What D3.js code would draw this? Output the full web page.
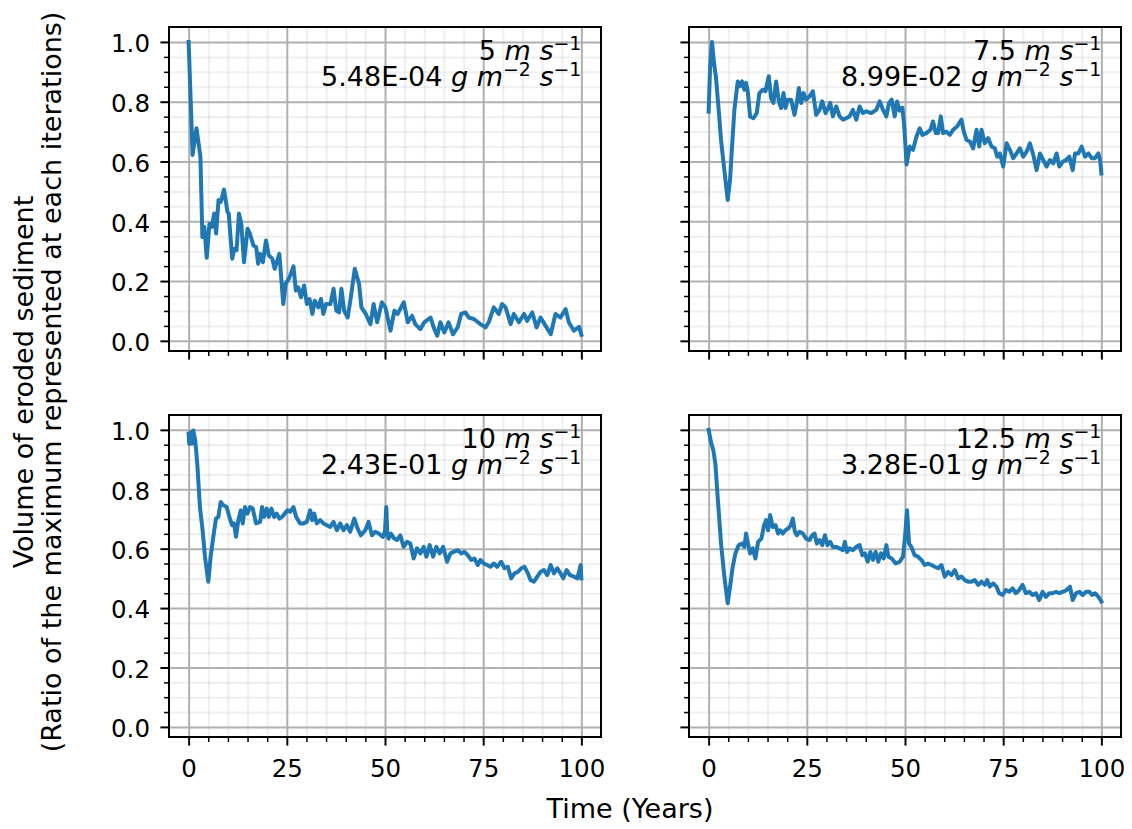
<!DOCTYPE html>
<html>
<head>
<meta charset="utf-8">
<script src="https://cdn.jsdelivr.net/npm/d3@7"></script>
<style>
  body { margin: 0; background: #fff; }
  text { font-family: "DejaVu Sans", sans-serif; fill: #000; }
</style>
</head>
<body>
<div id="chart"></div>
<script>
// wind speeds and erosion fluxes shown in each panel
var speeds = ["5", "7.5", "10", "12.5"];
var fluxes = ["5.48E-04", "8.99E-02", "2.43E-01", "3.28E-01"];

var xMajor = [0, 25, 50, 75, 100];
var yMajor = [0.0, 0.2, 0.4, 0.6, 0.8, 1.0];
var xTickLabels = ["0", "25", "50", "75", "100"];
var yTickLabels = ["0.0", "0.2", "0.4", "0.6", "0.8", "1.0"];

// [time (years), ratio of eroded volume]
var series5 = [[0,1.0],[1.0,0.622],[2.0,0.711],[3.0,0.616],[3.5,0.347],[4.0,0.381],[4.6,0.278],[5.3,0.392],[5.9,0.381],[6.5,0.426],[7.0,0.359],[7.6,0.471],[8.2,0.465],[9.0,0.506],[9.9,0.431],[10.2,0.426],[11.1,0.275],[11.6,0.308],[12.2,0.303],[12.8,0.426],[13.4,0.392],[14.1,0.263],[15.0,0.375],[15.6,0.359],[16.5,0.319],[17.2,0.314],[17.7,0.258],[18.2,0.291],[18.9,0.263],[19.7,0.336],[20.4,0.286],[21.3,0.275],[21.9,0.241],[23.1,0.291],[24.1,0.123],[24.7,0.19],[25.7,0.213],[26.7,0.249],[27.3,0.168],[27.9,0.179],[28.6,0.146],[29.4,0.185],[30.1,0.123],[30.8,0.14],[31.5,0.09],[32.1,0.134],[33.0,0.112],[33.7,0.14],[34.3,0.09],[35.0,0.123],[36.1,0.123],[36.9,0.174],[37.6,0.101],[38.3,0.095],[38.9,0.174],[39.6,0.101],[40.5,0.078],[41.3,0.146],[42.3,0.241],[43.4,0.19],[44.0,0.112],[45.1,0.09],[46.3,0.056],[47.1,0.123],[48.0,0.062],[49.2,0.129],[50.1,0.112],[51.4,0.034],[52.4,0.101],[53.2,0.09],[54.8,0.129],[55.8,0.062],[56.9,0.084],[57.7,0.056],[59.0,0.039],[60.0,0.062],[61.6,0.078],[62.4,0.045],[63.3,0.017],[64.1,0.062],[65.1,0.028],[66.2,0.062],[67.3,0.022],[68.5,0.045],[69.4,0.09],[70.5,0.095],[71.3,0.078],[72.6,0.073],[74.3,0.056],[75.6,0.045],[76.4,0.062],[77.7,0.112],[79.0,0.09],[79.8,0.123],[80.7,0.112],[82.0,0.056],[82.8,0.09],[84.1,0.062],[85.4,0.09],[86.2,0.067],[87.5,0.095],[88.6,0.045],[89.6,0.078],[90.9,0.05],[92.2,0.022],[93.4,0.09],[94.7,0.078],[96.0,0.106],[96.8,0.062],[98.1,0.034],[99.4,0.047],[100,0.02]];

var series7_5 = [[0,0.767],[0.35,0.908],[0.86,1.0],[1.37,0.93],[1.88,0.88],[2.56,0.773],[3.16,0.672],[4.0,0.571],[4.86,0.471],[5.45,0.538],[5.96,0.65],[6.56,0.773],[7.41,0.868],[8.0,0.852],[8.51,0.868],[9.11,0.84],[9.53,0.863],[9.96,0.835],[10.55,0.751],[11.4,0.745],[12.25,0.762],[12.93,0.829],[13.78,0.84],[14.46,0.835],[15.31,0.885],[15.91,0.812],[16.5,0.796],[17.19,0.868],[17.87,0.801],[18.46,0.779],[19.06,0.829],[19.57,0.779],[20.16,0.807],[21.01,0.807],[21.86,0.756],[22.46,0.796],[22.97,0.846],[23.56,0.796],[24.16,0.829],[24.84,0.807],[25.69,0.818],[26.54,0.835],[27.39,0.756],[28.24,0.773],[28.92,0.801],[29.77,0.762],[30.45,0.779],[30.96,0.796],[31.64,0.751],[32.49,0.784],[33.34,0.751],[34.19,0.74],[35.04,0.745],[35.89,0.751],[36.74,0.773],[37.59,0.74],[38.44,0.784],[39.29,0.762],[40.15,0.768],[41.42,0.762],[42.7,0.773],[43.55,0.801],[44.4,0.773],[45.25,0.751],[45.93,0.796],[46.61,0.807],[47.37,0.751],[47.97,0.801],[48.65,0.77],[49.33,0.78],[49.8,0.72],[50.4,0.59],[51.2,0.65],[52.05,0.639],[52.9,0.683],[53.75,0.711],[54.43,0.689],[55.45,0.695],[56.47,0.706],[57.15,0.734],[57.83,0.695],[58.43,0.695],[59.11,0.751],[59.7,0.695],[60.55,0.7],[61.4,0.689],[62.25,0.706],[63.27,0.717],[64.38,0.74],[64.97,0.7],[65.66,0.672],[66.51,0.667],[67.36,0.644],[68.21,0.706],[68.89,0.65],[69.48,0.706],[70.33,0.661],[71.18,0.678],[72.03,0.65],[72.88,0.644],[73.48,0.616],[74.16,0.627],[75.01,0.583],[75.86,0.661],[76.71,0.639],[77.56,0.611],[78.41,0.627],[79.26,0.644],[80.11,0.616],[80.96,0.633],[81.81,0.661],[82.66,0.622],[83.51,0.571],[84.36,0.627],[85.21,0.605],[86.06,0.583],[86.91,0.605],[87.76,0.594],[88.61,0.627],[89.29,0.583],[90.15,0.599],[91.0,0.605],[91.85,0.616],[92.7,0.571],[93.29,0.627],[94.14,0.627],[94.99,0.65],[95.84,0.616],[96.69,0.627],[97.54,0.611],[98.39,0.611],[99.24,0.627],[99.67,0.605],[100,0.56]];

var series10 = [[0,0.987],[0.16,0.953],[0.5,0.992],[0.84,0.953],[1.18,0.998],[1.69,0.964],[2.2,0.886],[2.88,0.74],[3.56,0.662],[4.16,0.573],[5.01,0.489],[5.6,0.573],[6.28,0.64],[6.96,0.701],[7.56,0.707],[8.16,0.757],[8.83,0.746],[9.69,0.74],[10.37,0.707],[11.05,0.679],[11.56,0.685],[12.07,0.64],[12.66,0.696],[13.26,0.729],[13.77,0.685],[14.36,0.74],[14.96,0.718],[15.64,0.74],[16.32,0.735],[17.17,0.685],[18.19,0.69],[18.7,0.74],[19.21,0.707],[19.89,0.735],[20.4,0.707],[21.08,0.735],[21.76,0.707],[22.44,0.718],[23.12,0.701],[23.8,0.707],[24.48,0.718],[25.16,0.729],[25.84,0.724],[26.69,0.74],[27.37,0.707],[28.39,0.685],[29.24,0.685],[30.09,0.69],[30.94,0.729],[31.45,0.696],[31.96,0.718],[32.65,0.685],[33.5,0.696],[34.34,0.685],[35.2,0.679],[36.05,0.673],[36.9,0.69],[37.75,0.662],[38.6,0.685],[39.45,0.662],[40.3,0.679],[41.15,0.657],[42.17,0.701],[43.02,0.668],[43.87,0.645],[44.97,0.662],[45.82,0.69],[46.68,0.645],[47.5,0.657],[48.37,0.651],[49.48,0.64],[50.0,0.66],[50.33,0.74],[50.6,0.645],[50.93,0.634],[51.52,0.651],[52.37,0.634],[53.05,0.629],[53.9,0.645],[54.75,0.606],[55.6,0.623],[56.45,0.617],[57.3,0.567],[58.15,0.601],[59.0,0.584],[59.85,0.606],[60.54,0.573],[61.39,0.612],[62.24,0.573],[63.09,0.606],[63.94,0.584],[64.79,0.606],[65.81,0.556],[66.66,0.584],[67.51,0.589],[68.53,0.595],[69.38,0.584],[70.23,0.589],[71.08,0.578],[71.93,0.562],[72.78,0.567],[73.63,0.545],[74.31,0.562],[75.16,0.55],[76.01,0.545],[76.86,0.539],[77.71,0.55],[78.56,0.539],[79.58,0.556],[80.43,0.534],[81.28,0.539],[82.13,0.5],[82.98,0.517],[83.83,0.522],[84.69,0.534],[85.54,0.539],[86.39,0.517],[87.07,0.494],[87.92,0.489],[88.77,0.506],[89.62,0.522],[90.47,0.528],[91.32,0.511],[92.17,0.545],[93.02,0.517],[93.87,0.534],[94.72,0.517],[95.4,0.5],[96.25,0.528],[97.1,0.511],[98.12,0.506],[98.97,0.5],[99.82,0.545],[100,0.5]];

var series12_5 = [[0,1.0],[0.6,0.959],[1.2,0.931],[1.71,0.886],[2.3,0.774],[3.16,0.617],[4.0,0.506],[4.86,0.416],[5.45,0.472],[6.13,0.539],[6.81,0.584],[7.66,0.612],[8.51,0.617],[9.11,0.606],[9.53,0.651],[10.04,0.617],[10.55,0.584],[11.23,0.601],[11.91,0.567],[12.59,0.623],[13.44,0.634],[14.12,0.679],[14.63,0.696],[15.15,0.662],[15.66,0.713],[16.33,0.673],[17.02,0.679],[17.7,0.651],[18.21,0.662],[18.89,0.651],[19.57,0.662],[20.25,0.668],[20.93,0.679],[21.44,0.701],[21.95,0.657],[22.46,0.645],[23.14,0.657],[23.99,0.651],[24.84,0.634],[25.69,0.629],[26.37,0.645],[26.96,0.651],[27.56,0.617],[28.24,0.629],[28.92,0.612],[29.6,0.645],[30.28,0.612],[30.96,0.623],[31.64,0.606],[32.49,0.606],[33.34,0.601],[34.19,0.595],[34.7,0.623],[35.21,0.589],[35.89,0.601],[36.74,0.595],[37.59,0.606],[38.44,0.612],[39.13,0.578],[39.8,0.584],[40.48,0.556],[41.17,0.589],[41.84,0.562],[42.53,0.589],[43.21,0.556],[43.89,0.584],[44.57,0.567],[45.25,0.612],[45.76,0.573],[46.61,0.567],[47.63,0.55],[48.65,0.556],[49.5,0.573],[50.01,0.64],[50.52,0.729],[51.03,0.617],[51.62,0.606],[52.47,0.578],[53.32,0.573],[54.18,0.562],[55.03,0.545],[55.88,0.55],[56.73,0.545],[57.58,0.539],[58.43,0.534],[59.28,0.545],[60.13,0.506],[60.98,0.522],[61.83,0.511],[62.68,0.528],[63.53,0.5],[64.38,0.506],[65.23,0.494],[66.08,0.489],[66.93,0.489],[67.78,0.494],[68.63,0.478],[69.48,0.489],[70.33,0.478],[70.93,0.494],[71.61,0.472],[72.46,0.483],[73.31,0.472],[73.99,0.45],[74.84,0.444],[75.69,0.461],[76.54,0.455],[77.39,0.466],[78.24,0.45],[79.09,0.461],[79.94,0.478],[80.79,0.45],[81.64,0.455],[82.49,0.444],[83.34,0.45],[84.19,0.427],[85.04,0.455],[85.89,0.438],[86.74,0.45],[87.59,0.45],[88.44,0.455],[89.29,0.45],[90.31,0.455],[91.16,0.461],[92.01,0.472],[92.7,0.427],[93.55,0.45],[94.4,0.455],[95.25,0.444],[96.1,0.455],[96.95,0.455],[97.63,0.444],[98.39,0.45],[99.24,0.438],[100,0.422]];

var allSeries = [series5, series7_5, series10, series12_5];

var W = 1132, H = 829;
var fs = 24.5;                  // tick labels, 10pt at this figure's dpi
var lfs = 27;                   // labels and annotations
var cols = [[169, 601], [689, 1121]];
var rows = [[27, 351], [415, 737]];

var xMinor = d3.range(5, 100, 5).filter(function (v) { return v % 25 !== 0; });
var yMinor = d3.range(1, 21).map(function (i) { return +(i * 0.05).toFixed(2); })
    .filter(function (v) { return Math.round(v * 100) % 20 !== 0 && v < 1.04; });

var svg = d3.select("#chart").append("svg")
    .attr("width", W)
    .attr("height", H)
    .style("background", "#fff");

function styleAxis(sel, color, width, opacity) {
    sel.select(".domain").remove();
    sel.selectAll("line").attr("stroke", color).attr("stroke-width", width).attr("stroke-opacity", opacity);
}

// "value m s-1" style text: parts of [string, italic, superscript]
function richText(g, x, y, parts) {
    var t = g.append("text").attr("x", x).attr("y", y)
        .attr("text-anchor", "end").style("font-size", lfs + "px");
    var raised = false;
    parts.forEach(function (p) {
        var s = t.append("tspan").text(p[0]);
        if (p[1]) s.style("font-style", "italic");
        if (p[2]) { s.attr("dy", -10).style("font-size", (lfs * 0.7) + "px"); raised = true; }
        else if (raised) { s.attr("dy", 10); raised = false; }
    });
}

function drawPanel(i) {
    var c = i % 2, r = Math.floor(i / 2);
    var x0 = cols[c][0], x1 = cols[c][1], y0 = rows[r][0], y1 = rows[r][1];
    var x = d3.scaleLinear().domain([-5, 105]).range([x0, x1]);
    var y = d3.scaleLinear().domain([-0.034, 1.05]).range([y1, y0]);
    var g = svg.append("g");

    // minor grid
    g.append("g").attr("transform", "translate(0," + y1 + ")")
        .call(d3.axisBottom(x).tickValues(xMinor).tickSize(-(y1 - y0)).tickFormat(""))
        .call(styleAxis, "#b0b0b0", 2, 0.2);
    g.append("g").attr("transform", "translate(" + x0 + ",0)")
        .call(d3.axisLeft(y).tickValues(yMinor).tickSize(-(x1 - x0)).tickFormat(""))
        .call(styleAxis, "#b0b0b0", 2, 0.2);
    // major grid
    g.append("g").attr("transform", "translate(0," + y1 + ")")
        .call(d3.axisBottom(x).tickValues(xMajor).tickSize(-(y1 - y0)).tickFormat(""))
        .call(styleAxis, "#b0b0b0", 2, 1);
    g.append("g").attr("transform", "translate(" + x0 + ",0)")
        .call(d3.axisLeft(y).tickValues(yMajor).tickSize(-(x1 - x0)).tickFormat(""))
        .call(styleAxis, "#b0b0b0", 2, 1);

    // the series
    g.append("path")
        .datum(allSeries[i])
        .attr("fill", "none")
        .attr("stroke", "#1f77b4")
        .attr("stroke-width", 4)
        .attr("stroke-linejoin", "round")
        .attr("stroke-linecap", "square")
        .attr("d", d3.line().x(function (d) { return x(d[0]); }).y(function (d) { return y(d[1]); }));

    // spines
    g.append("rect")
        .attr("x", x0).attr("y", y0)
        .attr("width", x1 - x0).attr("height", y1 - y0)
        .attr("fill", "none").attr("stroke", "#000").attr("stroke-width", 2);

    // ticks
    var xAx = d3.axisBottom(x).tickValues(xMajor).tickSize(8.6).tickPadding(14)
        .tickFormat(function (d, k) { return r === 1 ? xTickLabels[k] : ""; });
    var gx = g.append("g").attr("transform", "translate(0," + y1 + ")").call(xAx);
    styleAxis(gx, "#000", 2, 1);
    gx.selectAll("text").style("font-size", fs + "px").attr("fill", "#000");

    var gxm = g.append("g").attr("transform", "translate(0," + y1 + ")")
        .call(d3.axisBottom(x).tickValues(xMinor).tickSize(4.9).tickFormat(""));
    styleAxis(gxm, "#000", 1.5, 1);

    var yAx = d3.axisLeft(y).tickValues(yMajor).tickSize(8.6).tickPadding(10.4)
        .tickFormat(function (d, k) { return c === 0 ? yTickLabels[k] : ""; });
    var gy = g.append("g").attr("transform", "translate(" + x0 + ",0)").call(yAx);
    styleAxis(gy, "#000", 2, 1);
    gy.selectAll("text").style("font-size", fs + "px").attr("fill", "#000").attr("dy", "0.4em");

    var gym = g.append("g").attr("transform", "translate(" + x0 + ",0)")
        .call(d3.axisLeft(y).tickValues(yMinor).tickSize(4.9).tickFormat(""));
    styleAxis(gym, "#000", 1.5, 1);

    // annotation
    var ax = x(100);
    richText(g, ax, y0 + 33, [[speeds[i] + " "], ["m", true], [" "], ["s", true], ["\u22121", false, true]]);
    richText(g, ax, y0 + 58.5, [[fluxes[i] + " "], ["g", true], [" "], ["m", true], ["\u22122", false, true],
        [" "], ["s", true], ["\u22121", false, true]]);
}

for (var i = 0; i < 4; i++) drawPanel(i);

// shared axis labels
svg.append("text")
    .attr("x", 630).attr("y", 818)
    .attr("text-anchor", "middle")
    .style("font-size", lfs + "px")
    .text("Time (Years)");

var yl = svg.append("text")
    .attr("transform", "translate(32.7,382) rotate(-90)")
    .attr("text-anchor", "middle")
    .style("font-size", lfs + "px");
yl.append("tspan").attr("x", 0).attr("y", 0).text("Volume of eroded sediment");
yl.append("tspan").attr("x", 0).attr("y", 28).text("(Ratio of the maximum represented at each iterations)");
</script>
</body>
</html>
